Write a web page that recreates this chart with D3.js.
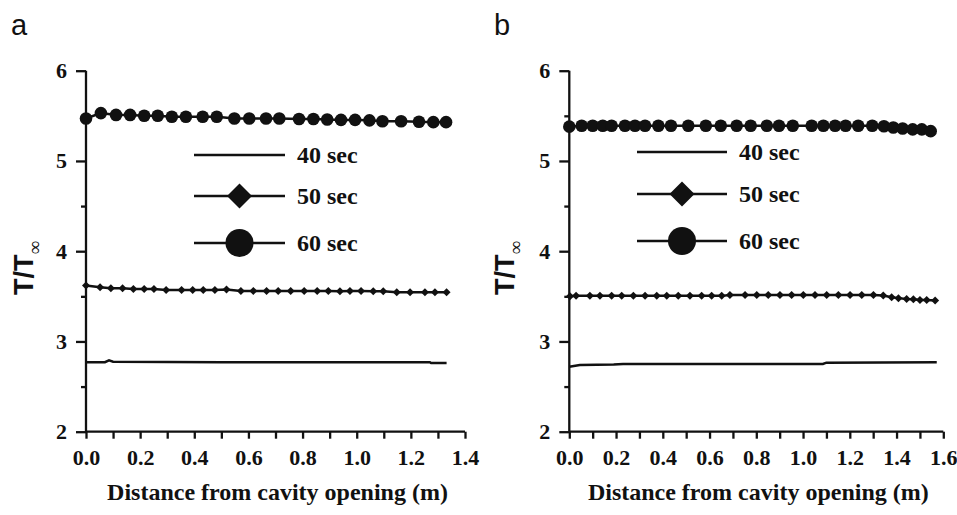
<!DOCTYPE html>
<html>
<head>
<meta charset="utf-8">
<script src="https://cdn.jsdelivr.net/npm/d3@7"></script>
<style>
  html, body { margin: 0; padding: 0; background: #fff; }
  svg { display: block; }
</style>
</head>
<body>
<svg id="chart" width="957" height="515"></svg>
<script>
// ---------- DATA ----------
const legendLabels = ["40 sec", "50 sec", "60 sec"];
const yTicks = [2, 3, 4, 5, 6];
const xTicksA = [0, 0.2, 0.4, 0.6, 0.8, 1.0, 1.2, 1.4];
const xTicksB = [0, 0.2, 0.4, 0.6, 0.8, 1.0, 1.2, 1.4, 1.6];
const xTitle = "Distance from cavity opening (m)";

// Panel a
const a40x = [0, 0.07, 0.085, 0.10, 0.50, 1.00, 1.27, 1.275, 1.332];
const a40y = [2.77, 2.77, 2.79, 2.775, 2.77, 2.77, 2.77, 2.76, 2.76];
const a50x = [0, 0.052, 0.092, 0.135, 0.175, 0.215, 0.251, 0.296, 0.353, 0.394, 0.433, 0.476, 0.519, 0.572, 0.618, 0.667, 0.710, 0.756, 0.806, 0.854, 0.895, 0.938, 0.975, 1.016, 1.061, 1.098, 1.148, 1.197, 1.252, 1.289, 1.332];
const a50y = [3.62, 3.60, 3.59, 3.59, 3.58, 3.58, 3.58, 3.57, 3.57, 3.57, 3.57, 3.57, 3.575, 3.56, 3.56, 3.56, 3.56, 3.56, 3.56, 3.56, 3.56, 3.555, 3.56, 3.56, 3.555, 3.555, 3.545, 3.545, 3.545, 3.545, 3.545];
const a60x = [0, 0.055, 0.111, 0.163, 0.215, 0.265, 0.317, 0.369, 0.431, 0.483, 0.548, 0.603, 0.665, 0.714, 0.787, 0.840, 0.891, 0.942, 0.994, 1.047, 1.095, 1.164, 1.230, 1.283, 1.330];
const a60y = [5.47, 5.53, 5.51, 5.51, 5.50, 5.50, 5.49, 5.49, 5.49, 5.49, 5.47, 5.47, 5.47, 5.47, 5.465, 5.465, 5.46, 5.455, 5.455, 5.45, 5.44, 5.44, 5.435, 5.43, 5.43];

// Panel b
const b40x = [0, 0.045, 0.19, 0.23, 1.085, 1.10, 1.572];
const b40y = [2.72, 2.74, 2.745, 2.75, 2.75, 2.765, 2.77];
const b50x = [0.003, 0.029, 0.088, 0.131, 0.181, 0.224, 0.274, 0.324, 0.374, 0.417, 0.466, 0.516, 0.566, 0.609, 0.652, 0.687, 0.752, 0.802, 0.851, 0.901, 0.951, 1.001, 1.051, 1.101, 1.151, 1.201, 1.251, 1.301, 1.343, 1.379, 1.408, 1.443, 1.472, 1.500, 1.529, 1.565];
const b50y = [3.50, 3.505, 3.505, 3.505, 3.505, 3.505, 3.505, 3.505, 3.505, 3.505, 3.505, 3.505, 3.505, 3.505, 3.505, 3.515, 3.515, 3.515, 3.515, 3.515, 3.515, 3.515, 3.515, 3.515, 3.515, 3.515, 3.515, 3.515, 3.51, 3.49, 3.48, 3.47, 3.468, 3.46, 3.46, 3.453];
const b60x = [0, 0.053, 0.100, 0.143, 0.181, 0.238, 0.281, 0.324, 0.381, 0.435, 0.509, 0.584, 0.648, 0.716, 0.776, 0.845, 0.897, 0.956, 1.037, 1.087, 1.137, 1.182, 1.236, 1.296, 1.346, 1.386, 1.426, 1.469, 1.508, 1.546];
const b60y = [5.38, 5.39, 5.39, 5.39, 5.39, 5.39, 5.39, 5.39, 5.39, 5.39, 5.39, 5.39, 5.39, 5.39, 5.39, 5.39, 5.39, 5.39, 5.39, 5.39, 5.39, 5.39, 5.39, 5.39, 5.385, 5.37, 5.36, 5.35, 5.35, 5.33];

// ---------- DRAW ----------
const svg = d3.select("#chart");
const zip = (xs, ys) => xs.map((x, i) => ({x: x, y: ys[i]}));
const serif = "'Liberation Serif', 'Times New Roman', serif";
const sans = "'Liberation Sans', Arial, sans-serif";

const panels = [
  {label: "a", labelX: 11, x0: 86, x1: 465, xmax: 1.4, xTicks: xTicksA,
   s40: zip(a40x, a40y), s50: zip(a50x, a50y), s60: zip(a60x, a60y),
   titleX: 14, leg: {x0: 194, x1: 285, ys: [155, 196, 243]}},
  {label: "b", labelX: 494, x0: 569.3, x1: 943.3, xmax: 1.6, xTicks: xTicksB,
   s40: zip(b40x, b40y), s50: zip(b50x, b50y), s60: zip(b60x, b60y),
   titleX: 495, leg: {x0: 637, x1: 727, ys: [152, 194, 241]}}
];

const diamondPath = (h) => `M0,${-h}L${h},0L0,${h}L${-h},0Z`;

panels.forEach(p => {
  const g = svg.append("g");
  const x = d3.scaleLinear().domain([0, p.xmax]).range([p.x0, p.x1]);
  const y = d3.scaleLinear().domain([2, 6]).range([431.7, 70.7]);

  // panel label
  g.append("text").attr("x", p.labelX).attr("y", 35)
    .attr("font-family", sans).attr("font-size", 29).attr("fill", "#111")
    .text(p.label);

  // x axis
  const minorX = d3.range(0, p.xmax + 1e-9, 0.1);
  const xAxis = d3.axisBottom(x).tickValues(minorX).tickSize(7)
    .tickFormat(d => {
      const isMajor = p.xTicks.some(t => Math.abs(t - d) < 1e-6);
      return isMajor ? d3.format(".1f")(d) : "";
    });
  const gx = g.append("g").attr("transform", `translate(0,${y(2)})`).call(xAxis);
  gx.attr("font-family", serif);
  gx.select(".domain").attr("d", `M${x(0)},0H${x(p.xmax)}`).attr("stroke", "#111").attr("stroke-width", 2.3);
  gx.selectAll(".tick line").attr("stroke", "#111").attr("stroke-width", 2.3);
  gx.selectAll(".tick text").attr("font-family", serif).attr("font-weight", "bold")
    .attr("font-size", 22).attr("fill", "#111").attr("dy", "1.05em");

  // y axis (major)
  const yAxis = d3.axisLeft(y).tickValues(yTicks).tickSize(10).tickPadding(9).tickFormat(d3.format("d"));
  const gy = g.append("g").attr("transform", `translate(${x(0)},0)`).call(yAxis);
  gy.attr("font-family", serif);
  gy.select(".domain").attr("d", `M0,${y(6)}V${y(2)}`).attr("stroke", "#111").attr("stroke-width", 2.3);
  gy.selectAll(".tick line").attr("stroke", "#111").attr("stroke-width", 2.3);
  gy.selectAll(".tick text").attr("font-family", serif).attr("font-weight", "bold")
    .attr("font-size", 22).attr("fill", "#111");
  // y minor ticks
  const gym = g.append("g").attr("transform", `translate(${x(0)},0)`)
    .call(d3.axisLeft(y).tickValues([2.5, 3.5, 4.5, 5.5]).tickSize(5).tickFormat(""));
  gym.select(".domain").remove();
  gym.selectAll(".tick line").attr("stroke", "#111").attr("stroke-width", 2.3);

  // y title
  const ty = g.append("text")
    .attr("transform", `translate(${p.titleX + 19},268) rotate(-90)`)
    .attr("text-anchor", "middle").attr("fill", "#111");
  ty.append("tspan").attr("font-family", sans).attr("font-weight", "bold").attr("font-size", 27).text("T/T");
  ty.append("tspan").attr("font-family", serif).attr("font-size", 19).attr("dy", 8).text("\u221E");

  // x title
  g.append("text").attr("x", (x(0) + x(p.xmax)) / 2 + 2).attr("y", 500)
    .attr("text-anchor", "middle").attr("font-family", serif).attr("font-weight", "bold")
    .attr("font-size", 24).attr("fill", "#111").text(xTitle);

  // lines
  const line = d3.line().x(d => x(d.x)).y(d => y(d.y));
  [p.s40, p.s50, p.s60].forEach(s => {
    g.append("path").datum(s).attr("d", line).attr("fill", "none")
      .attr("stroke", "#111").attr("stroke-width", 2.5);
  });
  // markers
  g.selectAll(".d50").data(p.s50).enter().append("path")
    .attr("transform", d => `translate(${x(d.x)},${y(d.y)})`)
    .attr("d", diamondPath(4)).attr("fill", "#111");
  g.selectAll(".c60").data(p.s60).enter().append("circle")
    .attr("cx", d => x(d.x)).attr("cy", d => y(d.y)).attr("r", 6.3).attr("fill", "#111");

  // legend
  const L = p.leg;
  const mid = (L.x0 + L.x1) / 2;
  L.ys.forEach((ly, i) => {
    g.append("line").attr("x1", L.x0).attr("x2", L.x1).attr("y1", ly).attr("y2", ly)
      .attr("stroke", "#111").attr("stroke-width", 2.5);
    if (i === 1) g.append("path").attr("transform", `translate(${mid},${ly})`)
      .attr("d", diamondPath(12.5)).attr("fill", "#111");
    if (i === 2) g.append("circle").attr("cx", mid).attr("cy", ly).attr("r", 14).attr("fill", "#111");
    g.append("text").attr("x", L.x1 + 12).attr("y", ly + 8)
      .attr("font-family", serif).attr("font-weight", "bold").attr("font-size", 24)
      .attr("fill", "#111").text(legendLabels[i]);
  });
});
</script>
</body>
</html>
